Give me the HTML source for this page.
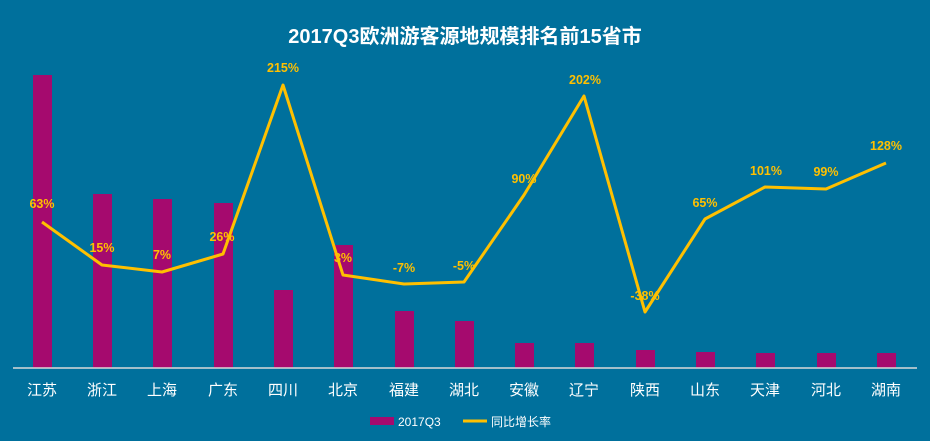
<!DOCTYPE html>
<html><head><meta charset="utf-8"><style>
body{margin:0;background:#00709c;}
svg{display:block;font-family:"Liberation Sans","Noto Sans CJK SC",sans-serif;}
</style></head><body>
<svg width="930" height="441" viewBox="0 0 930 441">
<rect width="930" height="441" fill="#00709c"/>
<text x="465" y="43" fill="#fff" font-size="20" font-weight="bold" text-anchor="middle">2017Q3欧洲游客源地规模排名前15省市</text>
<g fill="#a50a6e">
<rect x="33" y="75" width="19" height="293"/>
<rect x="93" y="194" width="19" height="174"/>
<rect x="153" y="199" width="19" height="169"/>
<rect x="214" y="203" width="19" height="165"/>
<rect x="274" y="290" width="19" height="78"/>
<rect x="334" y="245" width="19" height="123"/>
<rect x="395" y="311" width="19" height="57"/>
<rect x="455" y="321" width="19" height="47"/>
<rect x="515" y="343" width="19" height="25"/>
<rect x="575" y="343" width="19" height="25"/>
<rect x="636" y="350" width="19" height="18"/>
<rect x="696" y="352" width="19" height="16"/>
<rect x="756" y="353" width="19" height="15"/>
<rect x="817" y="353" width="19" height="15"/>
<rect x="877" y="353" width="19" height="15"/>
</g>
<line x1="13" y1="368" x2="917" y2="368" stroke="#d9d9d9" stroke-width="1.5"/>
<polyline fill="none" stroke="#ffc000" stroke-width="3" stroke-linejoin="round" points="42,222 102,265 162,272 223,254 283,85 343,275 404,284 464,282 524,195 584,96 645,312 705,219 765,187 826,189 886,163"/>
<g fill="#ffc000" font-size="12.5" font-weight="bold" text-anchor="middle">
<text x="42" y="208">63%</text><text x="102" y="252">15%</text><text x="162" y="259">7%</text>
<text x="222" y="241">26%</text><text x="283" y="72">215%</text><text x="343" y="262">3%</text>
<text x="404" y="272">-7%</text><text x="464" y="270">-5%</text><text x="524" y="183">90%</text>
<text x="585" y="84">202%</text><text x="645" y="300">-38%</text><text x="705" y="207">65%</text>
<text x="766" y="175">101%</text><text x="826" y="176">99%</text><text x="886" y="150">128%</text>
</g>
<g fill="#fff" font-size="15" text-anchor="middle">
<text x="42" y="395">江苏</text><text x="102" y="395">浙江</text><text x="162" y="395">上海</text>
<text x="223" y="395">广东</text><text x="283" y="395">四川</text><text x="343" y="395">北京</text>
<text x="404" y="395">福建</text><text x="464" y="395">湖北</text><text x="524" y="395">安徽</text>
<text x="584" y="395">辽宁</text><text x="645" y="395">陕西</text><text x="705" y="395">山东</text>
<text x="765" y="395">天津</text><text x="826" y="395">河北</text><text x="886" y="395">湖南</text>
</g>
<rect x="370" y="417" width="24" height="8" fill="#a50a6e"/>
<text x="398" y="426" fill="#fff" font-size="12">2017Q3</text>
<line x1="463" y1="421" x2="487" y2="421" stroke="#ffc000" stroke-width="3"/>
<text x="491" y="426" fill="#fff" font-size="12">同比增长率</text>
</svg>
</body></html>
